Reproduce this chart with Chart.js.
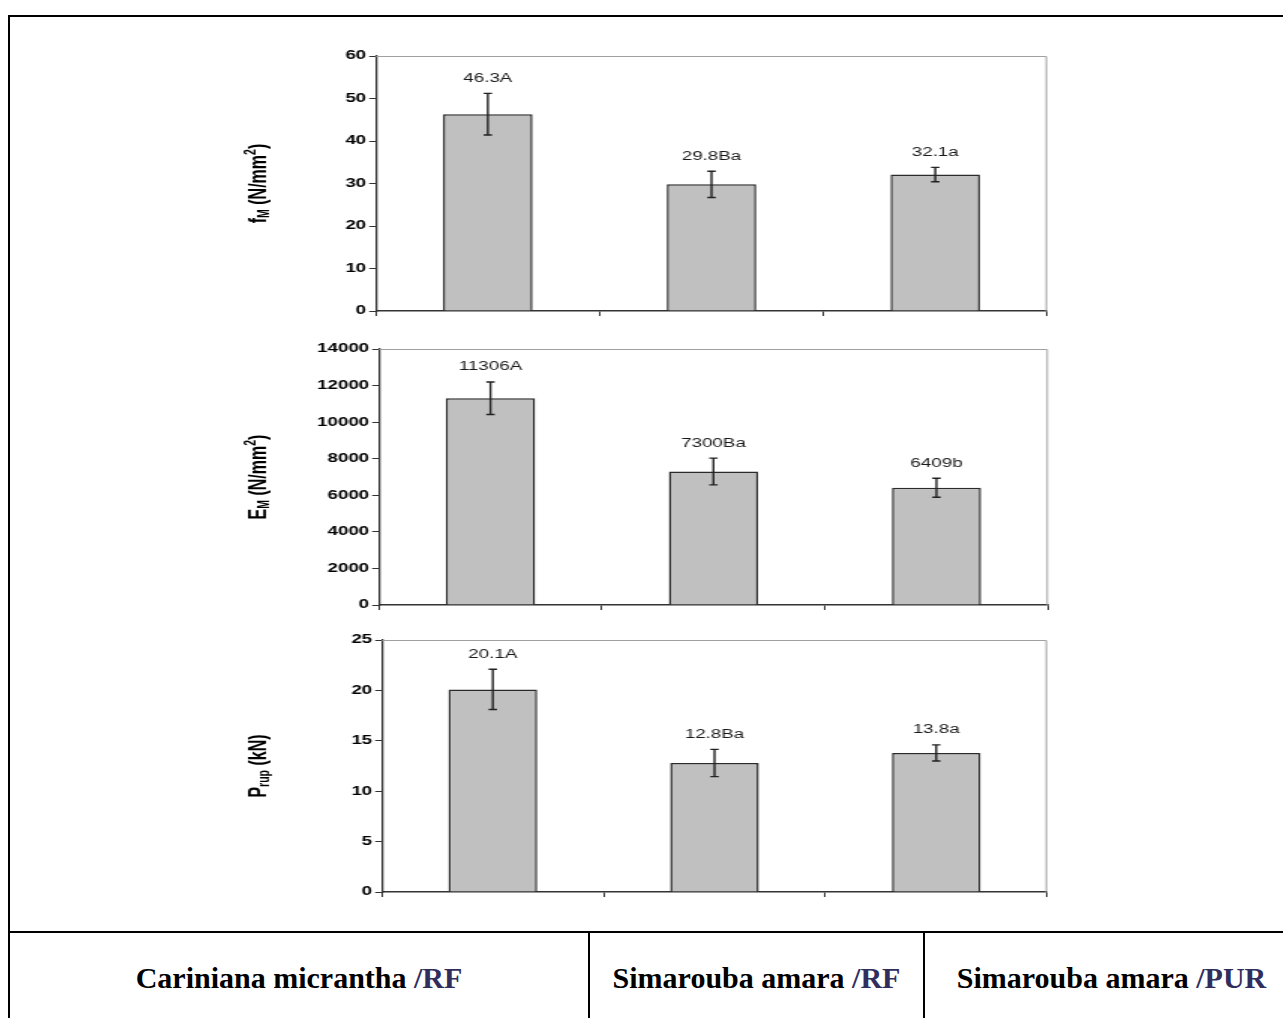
<!DOCTYPE html>
<html>
<head>
<meta charset="utf-8">
<script src="https://cdn.jsdelivr.net/npm/chart.js@4.4.1/dist/chart.umd.min.js"></script>
<style>
    body { margin: 0; background: #fff; overflow: hidden; width: 1283px; height: 1018px; position: relative; }
    #frame { position: absolute; left: 8px; top: 15px; width: 1320px; height: 1100px; border-left: 2px solid #000; border-top: 2px solid #000; }
    canvas { position: absolute; left: 200px; }
    #labels { position: absolute; left: 10px; top: 931px; height: 120px; width: 1300px; border-top: 2px solid #000; display: flex; }
    #labels div { height: 90px; text-align: center; font: bold 30px "Liberation Serif", "Times New Roman", serif; line-height: 90px; color: #000; white-space: nowrap; }
    #labels div + div { border-left: 2px solid #000; }
    #labels span { color: #312e5e; }
</style>
</head>
<body>
<div id="frame"></div>
<!-- canvases are drawn narrow and widened by css, like the stretched original figure -->
<canvas id="fmChart" width="580" height="310" style="top:20px;width:870px;height:310px"></canvas>
<canvas id="emChart" width="580" height="290" style="top:330px;width:870px;height:290px"></canvas>
<canvas id="prupChart" width="580" height="300" style="top:620px;width:870px;height:300px"></canvas>
<div id="labels"></div>

<script>
const species = ['Cariniana micrantha', 'Simarouba amara', 'Simarouba amara'];
const adhesives = ['RF', 'RF', 'PUR'];

const fmValues = [46.3, 29.8, 32.1];
const fmErrors = [4.9, 3.1, 1.7];
const fmLetters = ['A', 'Ba', 'a'];

const emValues = [11306, 7300, 6409];
const emErrors = [890, 730, 520];
const emLetters = ['A', 'Ba', 'b'];

const prupValues = [20.1, 12.8, 13.8];
const prupErrors = [2.0, 1.35, 0.8];
const prupLetters = ['A', 'Ba', 'a'];

const fmAxis = { max: 60, step: 10 };
const emAxis = { max: 14000, step: 2000 };
const prupAxis = { max: 25, step: 5 };

// axis titles as pieces so the sub/superscripts can be drawn
const fmTitle = [['f'], ['M', 'sub'], [' (N/mm'], ['2', 'sup'], [')']];
const emTitle = [['E'], ['M', 'sub'], [' (N/mm'], ['2', 'sup'], [')']];
const prupTitle = [['P'], ['rup', 'sub'], [' (kN)']];

const labelsRow = document.getElementById('labels');
const cellWidths = [578, 333, 373];
species.forEach((name, i) => {
    const cell = document.createElement('div');
    cell.style.width = cellWidths[i] + 'px';
    cell.innerHTML = name + ' <span>/' + adhesives[i] + '</span>';
    labelsRow.appendChild(cell);
});

// grey top and right edges of the plot area
const plotFrame = {
    id: 'plotFrame',
    beforeDatasetsDraw(chart) {
        const { left, right, top, bottom } = chart.chartArea;
        const ctx = chart.ctx;
        ctx.save();
        ctx.strokeStyle = '#a0a0a0';
        ctx.lineWidth = 1;
        ctx.beginPath();
        ctx.moveTo(left, top + 0.5);
        ctx.lineTo(right - 0.5, top + 0.5);
        ctx.lineTo(right - 0.5, bottom);
        ctx.stroke();
        ctx.restore();
    }
};

// error bars and the value/letter label over each bar
const errorBars = {
    id: 'errorBars',
    afterDatasetsDraw(chart) {
        const ctx = chart.ctx;
        const yScale = chart.scales.y;
        chart.data.datasets.forEach((ds, di) => {
            chart.getDatasetMeta(di).data.forEach((bar, i) => {
                const v = ds.data[i];
                const e = ds.errors[i];
                const top = yScale.getPixelForValue(v + e);
                const bottom = yScale.getPixelForValue(v - e);
                ctx.save();
                ctx.strokeStyle = '#222';
                ctx.lineWidth = 1.4;
                ctx.beginPath();
                ctx.moveTo(bar.x, top);
                ctx.lineTo(bar.x, bottom);
                ctx.moveTo(bar.x - 2.8, top);
                ctx.lineTo(bar.x + 2.8, top);
                ctx.moveTo(bar.x - 2.8, bottom);
                ctx.lineTo(bar.x + 2.8, bottom);
                ctx.stroke();
                ctx.font = '12.5px "Liberation Sans", Arial, sans-serif';
                ctx.fillStyle = '#1a1a1a';
                ctx.textAlign = 'center';
                ctx.textBaseline = 'middle';
                ctx.fillText(String(v) + ds.letters[i], bar.x, top - 15);
                ctx.restore();
            });
        });
    }
};

// rotated y title with subscript / superscript parts
const yTitle = {
    id: 'yTitle',
    afterDraw(chart) {
        const parts = chart.options.plugins.yTitle.parts;
        const ctx = chart.ctx;
        const big = 'bold 16px "Liberation Sans", Arial, sans-serif';
        const small = 'bold 10.5px "Liberation Sans", Arial, sans-serif';
        ctx.save();
        let total = 0;
        parts.forEach(p => {
            ctx.font = p[1] ? small : big;
            total += ctx.measureText(p[0]).width;
        });
        const area = chart.chartArea;
        ctx.translate(39.5, (area.top + area.bottom) / 2);
        ctx.rotate(-Math.PI / 2);
        ctx.fillStyle = '#000';
        ctx.textBaseline = 'middle';
        ctx.textAlign = 'left';
        let x = -total / 2;
        parts.forEach(p => {
            ctx.font = p[1] ? small : big;
            let dy = 0;
            if (p[1] === 'sub') dy = 3.5;
            if (p[1] === 'sup') dy = -5.5;
            ctx.fillText(p[0], x, dy);
            x += ctx.measureText(p[0]).width;
        });
        ctx.restore();
    }
};

function createChart(chartId, titleParts, values, errors, letters, axis, plot) {
    const canvas = document.getElementById(chartId);
    const ctx = canvas.getContext('2d');

    return new Chart(ctx, {
        type: 'bar',
        data: {
            labels: species.map((s, i) => s + ' /' + adhesives[i]),
            datasets: [
                {
                    data: values,
                    errors: errors,
                    letters: letters,
                    backgroundColor: '#c0c0c0',
                    borderColor: '#2a2a2a',
                    borderWidth: 1.5,
                    barPercentage: 0.4,
                    categoryPercentage: 1
                }
            ]
        },
        options: {
            responsive: false,
            animation: false,
            layout: {
                padding: { top: plot.top, right: plot.right, left: 0, bottom: 0 }
            },
            plugins: {
                legend: { display: false },
                tooltip: { enabled: false },
                yTitle: { parts: titleParts }
            },
            scales: {
                x: {
                    grid: { drawOnChartArea: false, tickLength: 5, color: '#333', offset: true },
                    border: { color: '#333', width: 1.5 },
                    ticks: { display: false },
                    afterFit: scale => { scale.height = plot.xHeight; }
                },
                y: {
                    min: 0,
                    max: axis.max,
                    ticks: {
                        stepSize: axis.step,
                        padding: 2,
                        color: '#000',
                        font: { family: '"Liberation Sans", Arial, sans-serif', size: 12.5, weight: 'bold' },
                        callback: value => String(value)
                    },
                    grid: { drawOnChartArea: false, tickLength: 4.5, color: '#333' },
                    border: { color: '#333', width: 1.3 },
                    afterFit: scale => { scale.width = plot.left; }
                }
            }
        },
        plugins: [plotFrame, errorBars, yTitle]
    });
}

createChart('fmChart', fmTitle, fmValues, fmErrors, fmLetters, fmAxis,
    { left: 117.3, right: 15.3, top: 36, xHeight: 19 });
createChart('emChart', emTitle, emValues, emErrors, emLetters, emAxis,
    { left: 119.3, right: 14.7, top: 19, xHeight: 15 });
createChart('prupChart', prupTitle, prupValues, prupErrors, prupLetters, prupAxis,
    { left: 121.3, right: 15.3, top: 20, xHeight: 28 });
</script>
</body>
</html>
